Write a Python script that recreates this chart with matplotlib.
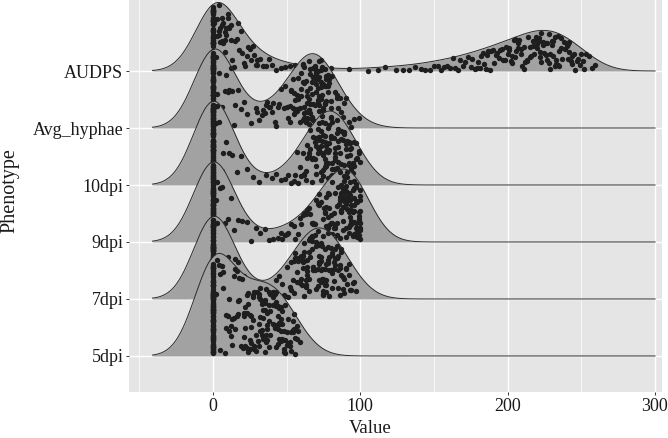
import numpy as np
import matplotlib
matplotlib.use("Agg")
import matplotlib.pyplot as plt

plt.rcParams['font.family'] = ['Liberation Serif', 'DejaVu Serif']

# ---------------- data (values read/estimated from the picture) ----------------
phenotypes = ["5dpi", "7dpi", "9dpi", "10dpi", "Avg_hyphae", "AUDPS"]

dpi5 = [0] * 113 + [
    2, 3, 4, 5, 5, 6, 7, 7, 8, 9, 9, 10,
    11, 11, 12, 12, 13, 13, 14, 14, 15, 15, 16, 16, 17, 17, 18, 18, 19, 20,
    20.5, 21, 21, 21, 22, 22, 22, 23, 23, 23, 24, 24, 24, 25, 25, 25, 26, 26, 26, 27, 27, 27,
    28, 28, 28, 29, 29, 30,
    30.5, 31, 31, 31, 31, 32, 32, 32, 32, 33, 33, 33, 33, 34, 34, 34, 34, 35, 35, 35, 35,
    36, 36, 36, 36, 37, 37, 37, 37, 38, 38, 38, 38, 39, 39, 39, 39, 40,
    40.5, 41, 41, 41, 41, 42, 42, 42, 42, 43, 43, 43, 43, 44, 44, 44, 44, 45, 45, 45, 45,
    46, 46, 46, 46, 47, 47, 47, 47, 48, 48, 48, 49, 49, 49, 50,
    50.5, 51, 51, 52, 52, 53, 53, 54, 54, 54, 55, 55, 56, 56, 57, 57, 58, 59]

dpi7 = [0] * 104 + [
    2, 3, 4, 5, 6, 7, 8, 9, 10, 12, 13, 15, 17, 19, 21, 24, 27, 29, 32, 34,
    41, 43, 45, 47, 48, 49,
    50, 51, 52, 53, 53, 54, 55, 55, 56, 56, 57, 57, 58, 58, 59, 59, 60, 60,
    60.5, 61, 61, 61, 62, 62, 62, 62, 63, 63, 63, 63, 64, 64, 64, 64, 65, 65, 65, 65, 66, 66, 66, 66,
    67, 67, 67, 67, 68, 68, 68, 69, 69, 70,
    70, 70, 71, 71, 71, 71, 72, 72, 72, 72, 72, 73, 73, 73, 73, 73, 74, 74, 74, 74, 75, 75, 75, 75, 75,
    76, 76, 76, 76, 77, 77, 77, 77, 78, 78, 78, 78, 79, 79, 79, 80, 80,
    80.5, 81, 81, 81, 82, 82, 82, 83, 83, 83, 84, 84, 84, 85, 85, 85, 86, 86, 86, 87, 87, 87, 88, 88,
    89, 89, 90, 90,
    91, 92, 92, 93, 94, 95, 96, 97]

dpi9 = [0] * 104 + [
    2, 3, 5, 6, 8, 10, 12, 14, 17, 20, 23, 26, 29, 32, 35, 38, 41, 44, 47, 50,
    46, 49, 51, 53, 55,
    56, 58, 59, 60, 61, 62, 63, 64,
    65, 66, 67, 68, 68, 69, 70, 70, 71, 72, 72, 73, 74, 75,
    75.5, 76, 76, 77, 77, 77, 78, 78, 78, 79, 79, 79, 80, 80, 80, 81, 81, 81, 82, 82, 82,
    83, 83, 83, 84, 84, 84, 85,
    85.5, 86, 86, 86, 86, 87, 87, 87, 87, 87, 88, 88, 88, 88, 88, 89, 89, 89, 89, 89,
    90, 90, 90, 90, 90, 91, 91, 91, 91, 91, 92, 92, 92, 92, 92, 93, 93, 93, 93, 93,
    94, 94, 94, 94, 94, 95, 95, 95,
    95.5, 96, 96, 96, 96, 96, 96, 97, 97, 97, 97, 97, 97, 98, 98, 98, 98, 98, 98,
    99, 99, 99, 99, 99, 99, 100, 100, 100, 100, 100, 100, 100, 100]

dpi10 = [0] * 109 + [
    2, 3, 4, 6, 7, 9, 11, 13, 16, 19, 23, 27, 31, 36, 40,
    43, 46, 49,
    51, 53, 55, 56, 57, 58, 59,
    60, 61, 62, 62, 63, 63, 64, 64, 65, 65, 66, 66, 67, 67, 68, 68, 69, 69,
    70, 70, 70, 70, 71, 71, 71, 71, 72, 72, 72, 72, 73, 73, 73, 73, 74, 74, 74, 74,
    75, 75, 75, 75, 75, 76, 76, 76, 76, 76, 77, 77, 77, 77, 77, 78, 78, 78, 78, 79, 79, 79,
    80, 80, 80, 80, 80, 81, 81, 81, 81, 81, 82, 82, 82, 82, 82, 83, 83, 83, 83, 83,
    84, 84, 84, 84, 84, 85, 85, 85, 85, 85, 86, 86, 86, 86, 87, 87, 87, 87, 88, 88, 88,
    89, 89, 89, 90, 90,
    91, 91, 92, 92, 92, 93, 93, 93, 94, 94, 95, 95, 96, 96, 97, 97, 98, 99, 99, 100]

avg_hyphae = [0] * 92 + [
    1, 2, 2, 3, 3, 4, 4, 5, 5, 6, 7, 8, 9, 10, 11, 12, 13, 14, 15, 17, 19, 21, 23, 26, 29,
    30, 31, 33, 34, 35, 36, 37, 38, 39, 40, 41, 42, 43, 44, 45, 46, 48, 49,
    50, 51, 52, 52, 53, 53, 54, 54, 55, 55, 56, 56, 57, 57, 57, 58, 58, 59, 59, 60,
    60, 60, 61, 61, 61, 61, 62, 62, 62, 62, 62, 63, 63, 63, 63, 63, 64, 64, 64, 64, 64,
    65, 65, 65, 65, 65, 66, 66, 66, 66, 66, 67, 67, 67, 67, 67, 68, 68, 68, 68, 68,
    69, 69, 69, 69, 69, 70, 70,
    70, 70, 70, 71, 71, 71, 71, 71, 72, 72, 72, 72, 72, 73, 73, 73, 73, 73, 74, 74, 74, 74, 74,
    75, 75, 75, 75, 76, 76, 76, 76, 77, 77, 77, 77, 78, 78, 78, 79, 79, 80, 80,
    81, 82, 83, 84, 84, 85, 86, 87, 88, 89, 90,
    92, 94, 96, 99]

audps = [0] * 60 + [
    1, 1, 2, 2, 2, 3, 3, 3, 4, 4, 4, 5, 5, 5, 6, 6, 6, 7, 7, 7, 8, 8, 8, 9, 9, 10, 10, 11, 11, 12, 12,
    13, 14, 15, 16, 17, 18, 19, 20, 21, 22, 23, 24, 25, 26, 27, 28, 29, 30, 30,
    32, 34, 36, 38, 40, 43, 46, 49, 52, 56, 60, 65, 72, 80, 92,
    105, 112, 117, 124, 129,
    133, 137, 141, 144, 147, 150, 153, 155, 157, 159,
    161, 163, 164, 166, 168, 170, 171, 173, 175, 176, 178, 179,
    180, 181, 182, 183, 184, 185, 186, 187, 188, 189, 190, 191, 192, 193, 194, 195, 196, 197, 198, 199,
    200, 201, 201, 202, 203, 203, 204, 205, 205, 206, 207, 207, 208, 209, 209, 210, 211, 211, 212,
    213, 213, 214, 215, 215, 216, 217, 217, 218, 219, 219,
    220, 220, 221, 221, 222, 222, 223, 223, 224, 224, 225, 225, 226, 226, 227, 227, 228, 228, 229, 229,
    230, 230, 231, 231, 232, 232, 233, 233, 234, 234, 235, 235, 236, 236, 237, 238, 239, 240,
    240.5, 241, 241, 242, 242, 243, 244, 244, 245, 246, 247, 248, 249, 250, 251, 252, 253, 255, 257, 259]

values = {"5dpi": dpi5, "7dpi": dpi7, "9dpi": dpi9, "10dpi": dpi10,
          "Avg_hyphae": avg_hyphae, "AUDPS": audps}

x_ticks = [0, 100, 200, 300]
x_minor = [-50, 50, 150, 250]

# ---------------- density ridges ----------------
BW = 13.7      # joint bandwidth
SCALE = 1.8    # ridge height scale


def kde(v, x):
    v = np.asarray(v, float)
    z = (np.asarray(x, float)[:, None] - v[None, :]) / BW
    return np.exp(-0.5 * z ** 2).sum(1) / (len(v) * BW * np.sqrt(2 * np.pi))


all_vals = np.concatenate([np.asarray(values[p], float) for p in phenotypes])
grid = np.linspace(all_vals.min() - 3 * BW, all_vals.max() + 3 * BW, 600)
dens = {p: kde(values[p], grid) for p in phenotypes}
dmax = max(d.max() for d in dens.values())

W, H = 668, 438
fig = plt.figure(figsize=(W / 100, H / 100), dpi=100)
ax = fig.add_axes([129 / W, 46 / H, 533 / W, 392 / H])
ax.set_facecolor('#E5E5E5')

for k in range(len(phenotypes) - 1, -1, -1):
    p = phenotypes[k]
    y0 = k + 1
    z = 10 + (len(phenotypes) - 1 - k) * 3
    top = y0 + dens[p] / dmax * SCALE
    ax.fill_between(grid, y0, top, color='#A2A2A2', lw=0, zorder=z)
    ax.plot(grid, top, color='#2b2b2b', lw=0.7, zorder=z + 0.2)
    v = np.asarray(values[p], float)
    hv = kde(v, v) / dmax * SCALE
    i = np.arange(len(v)) + 1 + 37 * k
    frac = np.abs(np.sin(i * 12.9898 + 78.233) * 43758.5453) % 1.0
    ax.scatter(v, y0 + (0.03 + 0.94 * frac) * hv, s=15, color='#1e1e1e',
               lw=0, zorder=z + 0.1)

ax.set_xlim(-57.0, 304.8)
ax.set_ylim(0.368, 7.246)
ax.set_xticks(x_ticks)
ax.set_xticks(x_minor, minor=True)
ax.set_yticks(range(1, len(phenotypes) + 1))
ax.set_yticklabels(phenotypes)
ax.grid(which='major', color='white', lw=1.0, zorder=0.5)
ax.grid(which='minor', axis='x', color='white', lw=0.5, zorder=0.5)
ax.set_axisbelow(True)
for s in ax.spines.values():
    s.set_visible(False)
ax.tick_params(which='major', length=2.5, width=0.7, color='#333333',
               labelsize=13, labelcolor='#1a1a1a', pad=1.5)
ax.tick_params(which='minor', length=0)
ax.set_xlabel('Value', fontsize=13.5, color='#1a1a1a')
ax.set_ylabel('Phenotype', fontsize=14.5, color='#1a1a1a')
ax.xaxis.set_label_coords((370 - 129) / 533, (438 - 420 - 46) / 392)
ax.yaxis.set_label_coords((19 - 129) / 533, (438 - 191 - 46) / 392)

fig.savefig('out.png', dpi=100)
